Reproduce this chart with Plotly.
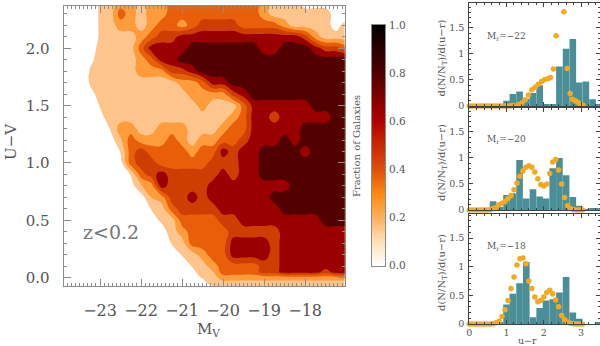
import numpy as np
import plotly.graph_objects as go

W, H = 600, 346

mag_grid = [-24.0, -23.75, -23.5, -23.25, -23.0, -22.75, -22.5, -22.25, -22.0, -21.75,
            -21.5, -21.25, -21.0, -20.75, -20.5, -20.25, -20.0, -19.75, -19.5, -19.25,
            -19.0, -18.75, -18.5, -18.25, -18.0, -17.75, -17.5, -17.25, -17.0]
color_grid = [-0.1, -0.05, 0.0, 0.05, 0.1, 0.2, 0.3, 0.4, 0.5, 0.6, 0.7, 0.8, 0.9, 1.0,
              1.1, 1.2, 1.3, 1.4, 1.5, 1.6, 1.7, 1.8, 1.9, 2.0, 2.1, 2.2, 2.3, 2.4]
bands = [
    [0,0,0,0,0,0,0,0,0,0,0,0,0,0,0,0,1,1,1,1,1,1,1,1,1,1,1,1,1],
    [0,0,0,0,0,0,0,0,0,0,0,0,0,0,0,1,1,1,1,1,1,1,1,1,1,1,1,1,1],
    [0,0,0,0,0,0,0,0,0,0,0,0,0,0,.6,1,2,2,2,2,2,2,2,2,2,2,2,2,2],
    [0,0,0,0,0,0,0,0,0,0,0,0,0,0,1.4,1.4,3,3,3,3,4,4,5,5,5,5,4,5,5],
    [0,0,0,0,0,0,0,0,0,0,0,0,0,.55,1,2,3,3,3,3,4,4,5,5,5,5,5,5,5],
    [0,0,0,0,0,0,0,0,0,0,0,0,.55,1,2,3,3,5,5,5,5,4,5,5,5,5,5,5,5],
    [0,0,0,0,0,0,0,0,0,0,0,.55,1,3,3,3,3,5,5,5,5,4,5,5,5,5,5,5,5],
    [0,0,0,0,0,0,0,0,0,0,0,1,2,3,3,3,3,4,4,4,4,4,5,5,5,5,5,5,5],
    [0,0,0,0,0,0,0,0,0,0,.7,1,3,3,3,3,4,4,5,5,5,5,5,5,5,5,6,6,6],
    [0,0,0,0,0,0,0,0,0,.55,1,3,4,4,4,4,5,5,5,5,5,5,6,6,6,6,6,6,6],
    [0,0,0,0,0,0,0,0,0,1.5,2,4,4,5,4,5,5,5,5,5,5,6,6,6,6,6,6,6,6],
    [0,0,0,0,0,0,0,0,1.4,2,5,4,4,4,4,5,5,5,5,5,5,5,5,6,6,6,6,6,6],
    [0,0,0,0,0,0,0,.55,3,4,5,4,4,4,4,4,5,4,5,5,6,6,6,6,6,6,6,6,6],
    [0,0,0,0,0,0,0,3,4,4,3,3,3,3,3,4,4,4,5,5,6,6,6,6,6,6,6,6,6],
    [0,0,0,0,0,0,.55,3,4,3,3,3,3,2,3,3,5,4,5,5,6,6,6,6,5,6,6,6,6],
    [0,0,0,0,0,0,1.3,3,2,2,2,3,2,1,2,2,3,3,4,5,5,5,6,5,6,6,6,6,6],
    [0,0,0,0,0,.55,2,2,1,1,2,2,2,1,1,1,2,3,3,5,5,5,5,5,6,6,6,6,6],
    [0,0,0,0,0,1.3,1,1,1,1,1,1,1,1,1,1,1,2,3,5,5,4,5,5,5,5,5,6,6],
    [0,0,0,0,.55,1,1,1,1,1,1,1,1,1,2,1,1,1,3,5,5,5,5,5,5,6,6,6,6],
    [0,0,0,0,1,1,1,1,1,1,1,1,1,2,2,2,2,4,5,6,6,6,6,6,6,6,6,6,6],
    [0,0,0,.55,1,1,1,1,1,1,1,1,2,2,3,5,5,6,6,6,6,6,6,6,6,6,6,6,6],
    [0,0,0,.55,1,1,1,1,2,2,2,4,4,5,6,6,6,6,6,6,6,6,6,6,6,6,6,6,6],
    [0,0,0,0,1.3,1,1,1,2,3,5,5,6,6,6,6,6,6,6,6,6,6,6,6,6,6,6,6,6],
    [0,0,0,0,.8,1,1,1,3,5,5,5,5,6,6,6,6,6,6,6,5,5,6,6,6,5,4,4,3],
    [0,0,0,0,.6,1,1,1,2,3,4,4,5,5,5,5,5,5,5,5,5,5,5,5,4,2,1,1,1],
    [0,0,0,0,.6,1,2,2,1,2,3,3,2,3,4,4,4,4,3,3,3,3,2,1,1,1,1,0,1],
    [0,0,0,0,.6,1,3,2,1,2,2,3,3,3,3,3,3,3,3,3,2,1,1,1,1,1,1,0,0],
    [0,0,0,0,.6,1,2,2,1,2,2,3,3,3,3,3,3,3,3,3,2,1,1,1,0,0,0,0,0],
]
band_colors = ["#ffffff", "#fdc58c", "#fe9b3a", "#e95e08", "#cc3f00", "#9a0000", "#520000"]

mag_ticks = [-23, -22, -21, -20, -19, -18]
mag_labels = ["\u221223", "\u221222", "\u221221", "\u221220", "\u221219", "\u221218"]
color_ticks = [0.0, 0.5, 1.0, 1.5, 2.0]

# Colour bar
bar_ticks = [0.0, 0.2, 0.4, 0.6, 0.8, 1.0]
bar_scale = [[0.0, "#ffffff"], [0.1, "#fee0b8"], [0.2, "#fdb060"], [0.3, "#fd8a10"],
             [0.4, "#e0500a"], [0.5, "#c82a00"], [0.6, "#b00000"], [0.7, "#800000"],
             [0.8, "#500000"], [0.9, "#2a0000"], [1.0, "#000000"]]

# Right panels: histograms and orange points
bin_centers = [0.64, 0.82, 1.0, 1.17, 1.35, 1.53, 1.71, 1.89, 2.06, 2.24, 2.42, 2.6,
               2.78, 2.95, 3.13, 3.31, 3.49]
hist_22 = [0, 0, 0.1, 0.23, 0.28, 0.14, 0.25, 0.4, 0.02, 0.03, 0.76, 1.1, 1.29, 0.45, 0.47, 0.13, 0.03]
hist_20 = [0.17, 0.06, 0.29, 0.32, 0.96, 0.22, 0.4, 0.26, 0.22, 0.8, 1.0, 0.67, 0.25, 0.08, 0.01, 0.02, 0.04]
hist_18 = [0, 0.03, 0.34, 0.53, 0.71, 1.08, 0.12, 0.28, 0.41, 0.43, 0.55, 0.82, 0.2, 0.09, 0, 0, 0.02]

dots_x_22 = [0.0, 0.08, 0.16, 0.24, 0.32, 0.4, 0.48, 0.56, 0.64, 0.72, 0.8, 0.88, 0.96, 1.04, 1.12,
             1.18, 1.32, 1.41, 1.5, 1.59, 1.68, 1.77, 1.85, 1.94, 2.03, 2.12, 2.18, 2.26, 2.33,
             2.54, 2.63, 2.71, 2.77, 2.84, 2.91, 2.97, 3.05]
dots_y_22 = [0, 0, 0, 0, 0, 0, 0, 0, 0, 0, 0, 0, 0, 0.002, 0.005,
             0.01, 0.03, 0.06, 0.12, 0.21, 0.31, 0.36, 0.42, 0.47, 0.51, 0.53, 0.55, 0.71, 1.35,
             1.81, 0.72, 0.24, 0.13, 0.1, 0.07, 0.04, 0.015]
dots_x = [0.0, 0.08, 0.16, 0.24, 0.32, 0.4, 0.48, 0.56, 0.64, 0.72, 0.8, 0.88, 0.96, 1.04, 1.12,
          1.2, 1.28, 1.36, 1.44, 1.52, 1.6, 1.68, 1.76, 1.84, 1.92, 2.0, 2.08, 2.16, 2.24, 2.32,
          2.4, 2.48, 2.56, 2.64, 2.72, 2.8, 2.88, 2.96, 3.04]
dots_y_20 = [0, 0, 0, 0, 0, 0, 0, 0.005, 0.03, 0.05, 0.1, 0.13, 0.17, 0.22, 0.28,
             0.39, 0.52, 0.65, 0.75, 0.82, 0.85, 0.82, 0.73, 0.6, 0.49, 0.46, 0.5, 0.7, 0.92, 0.97,
             0.77, 0.5, 0.24, 0.08, 0.03, 0.006, 0, 0, 0]
dots_y_18 = [0, 0, 0, 0, 0, 0, 0, 0.002, 0.005, 0.02, 0.05, 0.13, 0.25, 0.41, 0.62,
             0.82, 1.03, 1.14, 1.15, 1.05, 0.75, 0.62, 0.47, 0.39, 0.41, 0.47, 0.55, 0.59, 0.53, 0.42,
             0.3, 0.15, 0.08, 0.035, 0.015, 0.005, 0, 0, 0]

TEAL = "#4a8f98"
ORANGE = "#f4a91e"
AXIS = "#8c8c8c"
TEXT = "#555555"
SERIF = "DejaVu Serif"


def px_x(p):
    return p / W


def px_y(p):
    return 1 - p / H


fig = go.Figure()

n = len(band_colors) - 1
fig.add_trace(go.Contour(
    x=mag_grid, y=color_grid, z=bands, xaxis="x", yaxis="y",
    zmin=0, zmax=n, autocontour=False,
    contours=dict(start=0.5, end=n - 0.5, size=1, coloring="fill", showlines=False),
    colorscale=[[i / n, c] for i, c in enumerate(band_colors)],
    line=dict(width=0, smoothing=1.3), showscale=False, hoverinfo="skip",
))

# colour bar drawn as a thin heatmap
fig.add_trace(go.Heatmap(
    x=[0, 1], y=np.linspace(0, 1, 121), z=[[v, v] for v in np.linspace(0, 1, 121)],
    xaxis="x2", yaxis="y2", colorscale=bar_scale, zmin=0, zmax=1, showscale=False,
    hoverinfo="skip",
))

panels = [(hist_22, dots_x_22, dots_y_22, "3", 3, 106, 1.98, "\u221222", 36),
          (hist_20, dots_x, dots_y_20, "4", 108, 210, 1.96, "\u221220", 139),
          (hist_18, dots_x, dots_y_18, "5", 214, 324, 1.92, "\u221218", 247)]

layout = dict(
    width=W, height=H, margin=dict(l=0, r=0, t=0, b=0, autoexpand=False),
    paper_bgcolor="white", plot_bgcolor="white", showlegend=False,
    font=dict(family=SERIF, color=TEXT),
    xaxis=dict(domain=[px_x(63.5), px_x(344.5)], range=[-23.89, -17.04], anchor="y",
               tickvals=mag_ticks, ticktext=mag_labels, ticks="inside", ticklen=7, tickcolor=AXIS,
               tickfont=dict(size=16), ticklabelstandoff=10, showgrid=False, zeroline=False,
               showline=True, linecolor=AXIS, mirror="allticks",
               minor=dict(dtick=0.1, ticks="inside", ticklen=3, tickcolor=AXIS, showgrid=False)),
    yaxis=dict(domain=[px_y(286), px_y(5.5)], range=[-0.073, 2.373], anchor="x",
               tickvals=color_ticks, ticktext=["0.0", "0.5", "1.0", "1.5", "2.0"], ticks="inside",
               ticklen=7, tickcolor=AXIS, tickfont=dict(size=15), ticklabelstandoff=10, showgrid=False,
               zeroline=False, showline=True, linecolor=AXIS, mirror="allticks",
               minor=dict(dtick=0.1, ticks="inside", ticklen=3, tickcolor=AXIS, showgrid=False)),
    xaxis2=dict(domain=[px_x(372), px_x(385)], range=[0, 1], anchor="y2", showticklabels=False,
                ticks="", showgrid=False, zeroline=False, showline=True, linecolor=AXIS, mirror=True),
    yaxis2=dict(domain=[px_y(265.5), px_y(25)], range=[0, 1], anchor="x2", side="right",
                tickvals=bar_ticks, ticktext=["0.0", "0.2", "0.4", "0.6", "0.8", "1.0"], ticks="",
                tickfont=dict(size=10.5), ticklabelstandoff=1, showgrid=False, zeroline=False,
                showline=True, linecolor=AXIS, mirror=True),
)

annotations = [
    dict(x=px_x(11), y=px_y(142), text="U\u2212V", textangle=-90, font=dict(size=15)),
    dict(x=px_x(208), y=px_y(329), text="M<sub>V</sub>", font=dict(size=15)),
    dict(x=px_x(111), y=px_y(232), text="z&lt;0.2", font=dict(size=19, color="#777777")),
    dict(x=px_x(356), y=px_y(146), text="Fraction of Galaxies", textangle=-90, font=dict(size=10)),
    dict(x=px_x(527), y=px_y(340), text="u\u2212r", font=dict(size=9.5)),
]

for hist, dx, dy, ax, top, bottom, ymax, label, label_y in panels:
    xa, ya = "x" + ax, "y" + ax
    fig.add_trace(go.Bar(x=bin_centers, y=hist, width=0.178, marker=dict(color=TEAL, line_width=0),
                         xaxis=xa, yaxis=ya, hoverinfo="skip"))
    fig.add_trace(go.Scatter(x=dx, y=dy, mode="markers", marker=dict(color=ORANGE, size=5.5),
                             xaxis=xa, yaxis=ya, hoverinfo="skip", cliponaxis=False))
    layout["xaxis" + ax] = dict(
        domain=[px_x(469.3), px_x(600)], range=[0, 3.51], anchor=ya,
        tickvals=[0, 1, 2, 3], ticks="inside", ticklen=4, tickcolor="#444444", mirror="allticks",
        showticklabels=ax == "5", tickfont=dict(size=9.5), showgrid=False, zeroline=False,
        showline=True, linecolor="#444444",
        minor=dict(dtick=0.2, ticks="inside", ticklen=2, tickcolor="#444444", showgrid=False))
    layout["yaxis" + ax] = dict(
        domain=[px_y(bottom), px_y(top)], range=[0, ymax], anchor=xa,
        tickvals=[0, 0.5, 1, 1.5], ticktext=["0", "0.5", "1", "1.5"], ticks="inside", ticklen=4,
        tickcolor="#444444", mirror="allticks", tickfont=dict(size=9.5), ticklabelstandoff=2,
        showgrid=False, zeroline=False, showline=True, linecolor="#444444",
        minor=dict(dtick=0.1, ticks="inside", ticklen=2, tickcolor="#444444", showgrid=False))
    annotations.append(dict(x=px_x(506), y=px_y(label_y), text="M<sub>r</sub>=" + label,
                            font=dict(size=9)))
    annotations.append(dict(x=px_x(442), y=px_y((top + bottom) / 2 + 4),
                            text="d(N/N<sub>T</sub>)/d(u\u2212r)", textangle=-90, font=dict(size=10)))

for a in annotations:
    a.update(xref="paper", yref="paper", showarrow=False, xanchor="center", yanchor="middle")

fig.update_layout(**layout, annotations=annotations)
# the page's default body margin would push the figure 8px down and right
fig.write_html("out.html", config=dict(displayModeBar=False),
               post_script="document.body.style.margin='0';")
